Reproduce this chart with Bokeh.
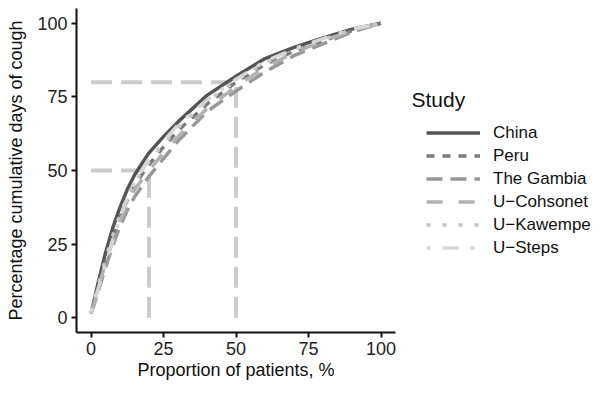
from bokeh.plotting import figure
from bokeh.layouts import row
from bokeh.models import Legend, LegendItem, Label, Range1d, FixedTicker
from bokeh.embed import file_html
from bokeh.resources import INLINE

# ---- data ----
studies = ["China", "Peru", "The Gambia", "U\u2212Cohsonet", "U\u2212Kawempe", "U\u2212Steps"]
prop_patients = [0, 1, 2.5, 5, 7.5, 10, 12.5, 15, 20, 25, 30, 40, 50, 60, 70, 80, 90, 100]
china =    [1.5, 5.5, 12, 22, 30.5, 37.5, 43.5, 48.5, 56, 61.5, 66.5, 75.5, 82, 88, 91.8, 95, 98, 100]
peru =     [1.5, 4.8, 10.5, 19, 27, 34, 40, 45, 52, 58, 63.5, 72.5, 80, 86, 90.5, 94, 97.5, 100]
gambia =   [1.5, 4.2, 9, 17, 24.5, 31, 36.5, 41, 48, 54, 60, 70, 77, 83.5, 89, 93, 97, 100]
cohsonet = [1.5, 4.5, 10, 18.5, 26, 33, 38.5, 43.5, 50, 56, 61.5, 71, 78.5, 85, 90, 94, 97.5, 100]
kawempe =  [1.5, 5, 11, 20, 28, 35, 41, 46, 53, 59, 64.5, 73.5, 80.5, 86.5, 91, 94.5, 97.8, 100]
steps =    [2, 4.8, 10, 18, 26.5, 34, 40.5, 46, 54, 60, 65.5, 74, 81, 87, 91.3, 94.8, 98, 100]
series = [china, peru, gambia, cohsonet, kawempe, steps]

ref_x = [20, 50]   # proportion of patients
ref_y = [50, 80]   # cumulative days of cough
ticks = [0, 25, 50, 75, 100]
legend_title = "Study"

# ---- styles ----
colors = ["#555555", "#7a7a7a", "#989898", "#b1b1b1", "#c6c6c6", "#d6d6d6"]
dashes = ["solid", "8 8", "16 8", "16 16", "4 12", "4 12 16 12"]
FONT = "Liberation Sans"
H = 382

p = figure(width=405, height=H, x_range=Range1d(-5, 105), y_range=Range1d(-5, 105),
           output_backend="svg", toolbar_location=None,
           min_border_left=76, min_border_right=10, min_border_top=8, min_border_bottom=40)
p.outline_line_color = None
p.grid.visible = False

# reference lines
p.segment(x0=[0, 0], y0=ref_y, x1=ref_x, y1=ref_y, line_color="#cccccc", line_width=4, line_dash="21 9")
p.segment(x0=ref_x, y0=[0, 0], x1=ref_x, y1=ref_y, line_color="#cccccc", line_width=4, line_dash="21 9")

for ys, c, d in zip(series, colors, dashes):
    p.line(prop_patients, ys, line_color=c, line_width=3.5, line_dash=d, line_join="round")

for ax in (p.xaxis[0], p.yaxis[0]):
    ax.ticker = FixedTicker(ticks=ticks)
    ax.axis_line_width = 2
    ax.axis_line_color = "#111111"
    ax.major_tick_line_width = 2
    ax.major_tick_line_color = "#111111"
    ax.major_tick_out = 5
    ax.major_tick_in = 0
    ax.minor_tick_line_color = None
    ax.major_label_text_font = FONT
    ax.major_label_text_font_size = "18px"
    ax.major_label_text_color = "#222222"
    ax.axis_label_text_font = FONT
    ax.axis_label_text_font_size = "18px"
    ax.axis_label_text_font_style = "normal"
    ax.axis_label_text_color = "#111111"
    ax.major_label_standoff = 4

p.xaxis.axis_label = "Proportion of patients, %"
p.yaxis.axis_label = "Percentage cumulative days of cough"
p.xaxis.axis_label_standoff = 2
p.yaxis.axis_label_standoff = 8

# legend panel
W2 = 187
p2 = figure(width=W2, height=H, x_range=Range1d(1000, 1000 + W2), y_range=Range1d(0, H),
            x_axis_type=None, y_axis_type=None, output_backend="svg", toolbar_location=None,
            min_border=0)
p2.outline_line_color = None
p2.grid.visible = False

leg_renderers = [p2.line(prop_patients, ys, line_color=c, line_width=3.5, line_dash=d)
                 for ys, c, d in zip(series, colors, dashes)]
items = [LegendItem(label=s, renderers=[r]) for s, r in zip(studies, leg_renderers)]
legend = Legend(items=items, location=(21, 73), glyph_width=54, glyph_height=23, spacing=0,
                label_standoff=13, label_text_font=FONT, label_text_font_size="17px",
                label_text_color="#111111", margin=0, padding=0,
                border_line_alpha=0, background_fill_alpha=0)
p2.add_layout(legend)

p2.add_layout(Label(x=1006, y=275, text=legend_title,
                    text_font=FONT, text_font_size="21px", text_color="#111111",
                    text_baseline="alphabetic"))

layout = row(p, p2, spacing=0)
open("out.html", "w").write(file_html(layout, INLINE))
